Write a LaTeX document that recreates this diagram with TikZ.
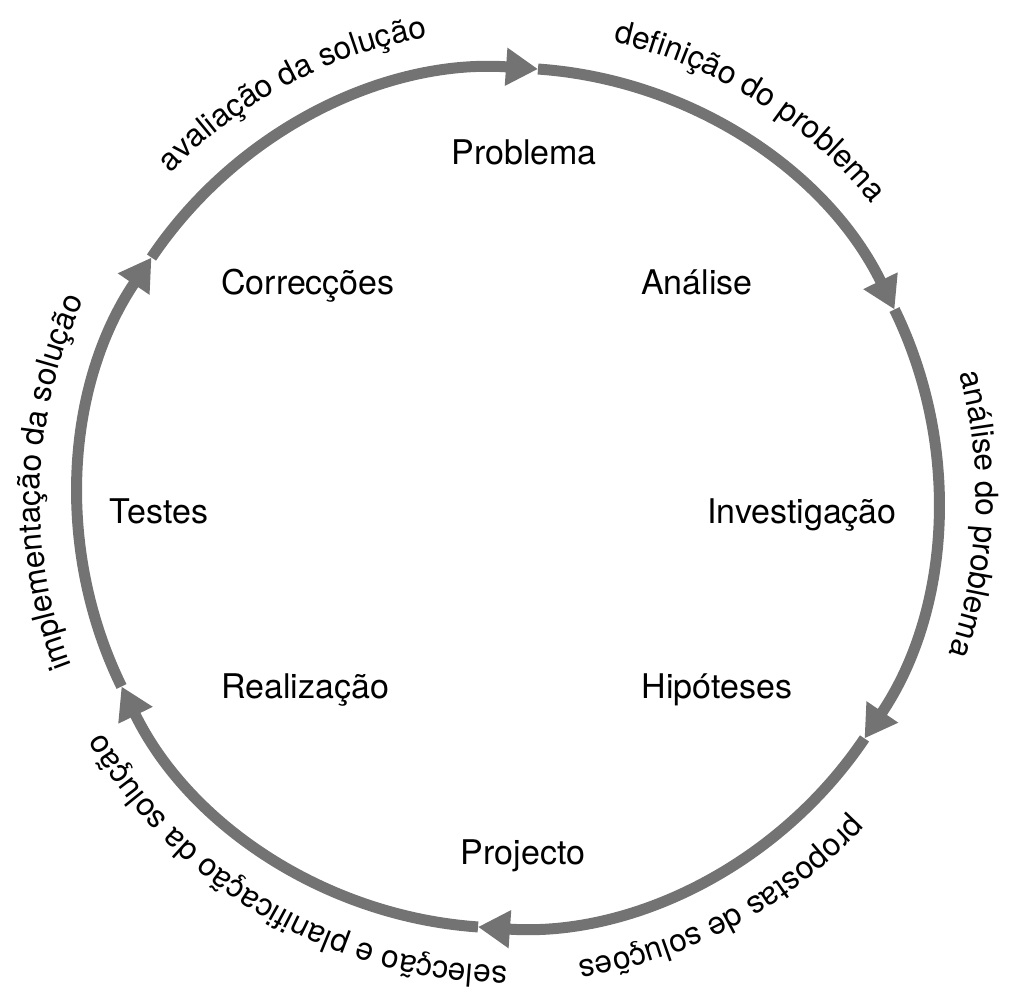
\documentclass[tikz,border=0pt]{standalone}
\usepackage{fontspec}
\setmainfont{TeX Gyre Heros}
\usetikzlibrary{arrows.meta,decorations.text}
\definecolor{cyc}{RGB}{115,115,115}
\newcommand\outerfont{\fontsize{15.8}{19}\selectfont}
\tikzset{
  flow/.style={draw=cyc, line width=5.5pt, -{Triangle[length=16pt,width=18pt]}, color=cyc},
  stage/.style={font=\fontsize{17}{20}\selectfont, anchor=base, inner sep=0pt},
}
\begin{document}
\begin{tikzpicture}[x=0.5pt,y=0.5pt]
\useasboundingbox (-508,-496) rectangle (502,498);
% arrow tip points on the cycle
\coordinate (t1) at (86:430);
\coordinate (t2) at (26:430);
\coordinate (t3) at (-34:430);
\coordinate (t4) at (-94:430);
\coordinate (t5) at (-154:430);
\coordinate (t6) at (146:430);
\draw[flow] (t6) arc[start angle=146, end angle=86, radius=430];
\draw[flow] (t1) arc[start angle=86, end angle=26, radius=430];
\draw[flow] (t2) arc[start angle=26, end angle=-34, radius=430];
\draw[flow] (t3) arc[start angle=-34, end angle=-94, radius=430];
\draw[flow] (t4) arc[start angle=-94, end angle=-154, radius=430];
\draw[flow] (t5) arc[start angle=-154, end angle=-214, radius=430];
% stage labels
\node[stage] (problema) at (16,333) {Problema};
\node[stage] (analise) at (189,203) {Análise};
\node[stage] (investigacao) at (294,-26) {Investigação};
\node[stage] (hipoteses) at (209,-200) {Hipóteses};
\node[stage] (projecto) at (15,-366) {Projecto};
\node[stage] (realizacao) at (-203,-200) {Realização};
\node[stage] (testes) at (-349,-26) {Testes};
\node[stage] (correccoes) at (-200,203) {Correcções};
% transition labels along the cycle
\coordinate (l1) at (158:468);
\coordinate (l2) at (98:468);
\coordinate (l3) at (38:468);
\coordinate (l4) at (-22:468);
\coordinate (l5) at (-80:468);
\coordinate (l6) at (218:468);
\path[decorate, decoration={text along path, text align=center,
  text={|\outerfont|avaliação da solução}}]
  (l1) arc[start angle=158, end angle=78, radius=468];
\path[decorate, decoration={text along path, text align=center,
  text={|\outerfont|definição do problema}}]
  (l2) arc[start angle=98, end angle=18, radius=468];
\path[decorate, decoration={text along path, text align=center,
  text={|\outerfont|análise do problema}}]
  (l3) arc[start angle=38, end angle=-42, radius=468];
\path[decorate, decoration={text along path, text align=center,
  text={|\outerfont|propostas de soluções}}]
  (l4) arc[start angle=-22, end angle=-102, radius=468];
\path[decorate, decoration={text along path, text align=center,
  text={|\outerfont|selecção e planificação da solução}}]
  (l5) arc[start angle=-80, end angle=-160, radius=468];
\path[decorate, decoration={text along path, text align=center,
  text={|\outerfont|implementação da solução}}]
  (l6) arc[start angle=218, end angle=138, radius=468];
\end{tikzpicture}
\end{document}
